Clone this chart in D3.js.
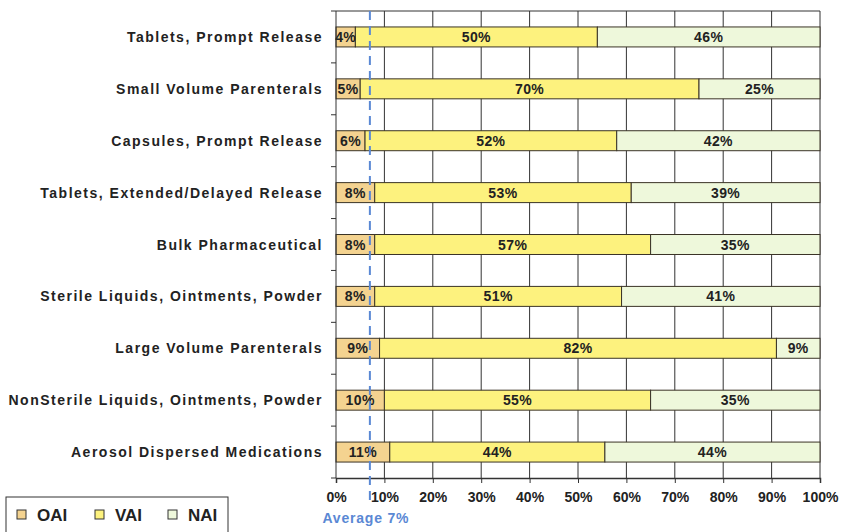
<!DOCTYPE html>
<html>
<head>
<meta charset="utf-8">
<script src="https://cdn.jsdelivr.net/npm/d3@7"></script>
<style>
  body { margin: 0; background: #fff; }
  text { font-family: "Liberation Sans", Arial, sans-serif; font-weight: bold; fill: #222; }
</style>
</head>
<body>
<div id="chart"></div>
<script>
// Data
const categories = [
    "Tablets, Prompt Release",
    "Small Volume Parenterals",
    "Capsules, Prompt Release",
    "Tablets, Extended/Delayed Release",
    "Bulk Pharmaceutical",
    "Sterile Liquids, Ointments, Powder",
    "Large Volume Parenterals",
    "NonSterile Liquids, Ointments, Powder",
    "Aerosol Dispersed Medications"
];
const oai = [4, 5, 6, 8, 8, 8, 9, 10, 11];
const vai = [50, 70, 52, 53, 57, 51, 82, 55, 44];
const nai = [46, 25, 42, 39, 35, 41, 9, 35, 44];
const seriesNames = ["OAI", "VAI", "NAI"];
const xTicks = [0, 10, 20, 30, 40, 50, 60, 70, 80, 90, 100];
const averageOAI = 7;

const colors = { "OAI": "#f4d390", "VAI": "#fdf27e", "NAI": "#eef8db" };

const W = 843, H = 532;
const margin = { top: 11, right: 23, bottom: 54, left: 336 };
const width = W - margin.left - margin.right;
const height = H - margin.top - margin.bottom;

const svg = d3.select("#chart").append("svg")
    .attr("width", W)
    .attr("height", H);

const g = svg.append("g")
    .attr("transform", "translate(" + margin.left + "," + margin.top + ")");

const x = d3.scaleLinear().domain([0, 100]).range([0, width]);
const y = d3.scaleBand()
    .domain(categories)
    .range([0, height])
    .paddingInner(0.615)
    .paddingOuter(0.3075);

// Build stacked rows (100% stacked, normalised by row total)
const rows = categories.map((c, i) => {
    const vals = [oai[i], vai[i], nai[i]];
    const total = d3.sum(vals);
    let cum = 0;
    return vals.map((v, j) => {
        const seg = { cat: c, name: seriesNames[j], value: v, x0: cum / total * 100 };
        cum += v;
        seg.x1 = cum / total * 100;
        return seg;
    });
});

// Vertical gridlines
g.selectAll(".grid")
    .data(xTicks.slice(1))
    .enter().append("line")
    .attr("x1", d => x(d))
    .attr("x2", d => x(d))
    .attr("y1", 0)
    .attr("y2", height)
    .attr("stroke", "#333")
    .attr("stroke-width", 1);

// top border
g.append("line")
    .attr("x1", 0).attr("x2", width)
    .attr("y1", 0).attr("y2", 0)
    .attr("stroke", "#333");

// Bars
const barGroups = g.selectAll(".row")
    .data(rows)
    .enter().append("g");

barGroups.selectAll("rect")
    .data(d => d)
    .enter().append("rect")
    .attr("x", d => x(d.x0))
    .attr("y", d => y(d.cat))
    .attr("width", d => x(d.x1) - x(d.x0))
    .attr("height", y.bandwidth())
    .attr("fill", d => colors[d.name])
    .attr("stroke", "#3a3326")
    .attr("stroke-width", 1);

barGroups.selectAll(".lbl")
    .data(d => d)
    .enter().append("text")
    .attr("x", d => x((d.x0 + d.x1) / 2))
    .attr("y", d => y(d.cat) + y.bandwidth() / 2)
    .attr("dy", "0.36em")
    .attr("text-anchor", "middle")
    .style("font-size", "14px")
    .style("letter-spacing", "0.4px")
    .text(d => d.value + "%");

// Left axis line and boundary ticks
g.append("line")
    .attr("x1", 0).attr("x2", 0)
    .attr("y1", 0).attr("y2", height)
    .attr("stroke", "#333");

g.selectAll(".ytick")
    .data(d3.range(categories.length + 1))
    .enter().append("line")
    .attr("x1", -5).attr("x2", 0)
    .attr("y1", i => i * y.step())
    .attr("y2", i => i * y.step())
    .attr("stroke", "#333");

// Category labels
g.selectAll(".cat")
    .data(categories)
    .enter().append("text")
    .attr("x", -13)
    .attr("y", d => y(d) + y.bandwidth() / 2)
    .attr("dy", "0.36em")
    .attr("text-anchor", "end")
    .style("font-size", "14px")
    .style("letter-spacing", "1.5px")
    .text(d => d);

// Bottom axis
const xAxis = g.append("g")
    .attr("transform", "translate(0," + height + ")")
    .call(d3.axisBottom(x)
        .tickValues(xTicks)
        .tickSize(5)
        .tickPadding(9)
        .tickFormat(d => d + "%"));

xAxis.select(".domain").attr("stroke", "#333").attr("stroke-width", 1.5);
xAxis.selectAll(".tick line").attr("stroke", "#333");
xAxis.selectAll("text")
    .style("font-size", "14px")
    .style("font-family", "'Liberation Sans', Arial, sans-serif")
    .style("font-weight", "bold")
    .attr("fill", "#222");

// Average line
g.append("line")
    .attr("x1", x(averageOAI)).attr("x2", x(averageOAI))
    .attr("y1", 0).attr("y2", height + 28)
    .attr("stroke", "#5a88d4")
    .attr("stroke-width", 2)
    .attr("stroke-dasharray", "9,6");

g.append("text")
    .attr("x", x(averageOAI) - 4)
    .attr("y", height + 40)
    .attr("dy", "0.36em")
    .attr("text-anchor", "middle")
    .style("font-size", "14px")
    .style("letter-spacing", "0.8px")
    .style("fill", "#5a88d4")
    .text("Average " + averageOAI + "%");

// Legend
const legend = svg.append("g").attr("transform", "translate(6,497)");
legend.append("rect")
    .attr("width", 222)
    .attr("height", 37)
    .attr("fill", "#fff")
    .attr("stroke", "#333")
    .attr("stroke-width", 1);

const legendX = [11, 89, 162];
const items = legend.selectAll(".item")
    .data(seriesNames)
    .enter().append("g")
    .attr("transform", (d, i) => "translate(" + legendX[i] + ",0)");

items.append("rect")
    .attr("x", 0)
    .attr("y", 13)
    .attr("width", 9)
    .attr("height", 9)
    .attr("fill", d => colors[d])
    .attr("stroke", "#333");

items.append("text")
    .attr("x", 20)
    .attr("y", 18)
    .attr("dy", "0.36em")
    .style("font-size", "17px")
    .text(d => d);
</script>
</body>
</html>
